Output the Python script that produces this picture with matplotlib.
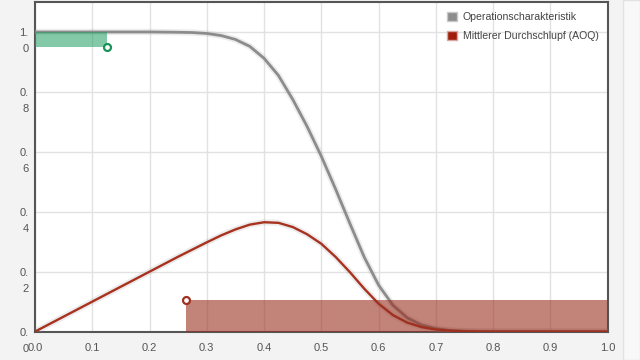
import matplotlib
matplotlib.use('Agg')
import matplotlib.pyplot as plt
import matplotlib.patheffects as pe
import matplotlib.transforms as mtransforms
from matplotlib.patches import Rectangle

plt.rcParams['font.family'] = ['Liberation Sans', 'DejaVu Sans']

# Operationscharakteristik
oc_x = [0.00, 0.10, 0.20, 0.25, 0.275, 0.30, 0.325, 0.35, 0.375, 0.40, 0.425, 0.45,
        0.475, 0.50, 0.525, 0.55, 0.575, 0.60, 0.625, 0.65, 0.675, 0.70, 0.725,
        0.75, 0.775, 0.80, 1.00]
oc_y = [1.000, 1.000, 1.000, 0.999, 0.998, 0.995, 0.988, 0.975, 0.952, 0.912, 0.855, 0.775,
        0.685, 0.585, 0.475, 0.360, 0.248, 0.155, 0.088, 0.046, 0.022, 0.010, 0.004,
        0.0015, 0.0005, 0.000, 0.000]

# Mittlerer Durchschlupf
aoq_x = [0.00, 0.10, 0.20, 0.25, 0.275, 0.30, 0.325, 0.35, 0.375, 0.40, 0.425, 0.45,
         0.475, 0.50, 0.525, 0.55, 0.575, 0.60, 0.625, 0.65, 0.675, 0.70, 0.725,
         0.75, 0.80, 1.00]
aoq_y = [0.000, 0.100, 0.200, 0.250, 0.274, 0.298, 0.321, 0.341, 0.357, 0.365, 0.363, 0.349,
         0.325, 0.293, 0.249, 0.198, 0.143, 0.093, 0.055, 0.030, 0.015, 0.007, 0.003,
         0.001, 0.000, 0.000]

# Risikobereiche
alpha_p, alpha_pa = 0.126, 0.950
beta_p, beta_pa = 0.263, 0.105

x_ticks = [0.0, 0.1, 0.2, 0.3, 0.4, 0.5, 0.6, 0.7, 0.8, 0.9, 1.0]
x_labels = ['0.0', '0.1', '0.2', '0.3', '0.4', '0.5', '0.6', '0.7', '0.8', '0.9', '1.0']
y_ticks = [0.0, 0.2, 0.4, 0.6, 0.8, 1.0]
y_labels = ['0.\n0', '0.\n2', '0.\n4', '0.\n6', '0.\n8', '1.\n0']

fig = plt.figure(figsize=(6.4, 3.6), dpi=100, facecolor='#f3f3f3')
fig.patches.append(Rectangle((623 / 640, 0), 17 / 640, 1, transform=fig.transFigure,
                             facecolor='#f8f8f8', edgecolor='#e2e2e2', linewidth=1, zorder=0))
ax = fig.add_axes([35 / 640, 28.4 / 360, 572.7 / 640, 329.6 / 360])
ax.set_facecolor('white')

ax.set_xlim(0, 1.0)
ax.set_ylim(0, 1.1)
ax.grid(True, color='#e2e2e2', linewidth=1)
ax.set_axisbelow(True)

halo = [pe.Stroke(linewidth=4.5, foreground='#999999', alpha=0.18), pe.Normal()]
ax.plot(oc_x, oc_y, color='#8c8c8c', linewidth=2.0, zorder=3, path_effects=halo,
        solid_capstyle='round', solid_joinstyle='round')
ax.plot(aoq_x, aoq_y, color='#a8321f', linewidth=1.7, zorder=3, path_effects=halo,
        solid_capstyle='round', solid_joinstyle='round')

ax.add_patch(Rectangle((0, alpha_pa), alpha_p, 1.0 - alpha_pa, facecolor='#1f9e5f',
                       alpha=0.55, linewidth=0, zorder=4))
ax.add_patch(Rectangle((beta_p, 0), 1.0 - beta_p, beta_pa, facecolor='#9a3020',
                       alpha=0.6, linewidth=0, zorder=4))
ax.plot([alpha_p], [alpha_pa], 'o', markersize=5, markerfacecolor='white',
        markeredgecolor='#1a9259', markeredgewidth=1.6, zorder=5, clip_on=False)
ax.plot([beta_p], [beta_pa], 'o', markersize=5, markerfacecolor='white',
        markeredgecolor='#a0301f', markeredgewidth=1.6, zorder=5, clip_on=False)

for side in ['left', 'bottom', 'top', 'right']:
    ax.spines[side].set_color('#555555')
    ax.spines[side].set_linewidth(1.5)

ax.set_xticks(x_ticks)
ax.set_xticklabels(x_labels)
ax.set_yticks(y_ticks)
ax.set_yticklabels(y_labels, va='top', linespacing=1.75)
ax.tick_params(axis='both', length=0, colors='#555555', labelsize=8)
ax.tick_params(axis='x', pad=8)
ax.tick_params(axis='y', pad=4.5)
offset = mtransforms.ScaledTranslation(0, 4 / 100, fig.dpi_scale_trans)
for lab in ax.get_yticklabels():
    lab.set_transform(lab.get_transform() + offset)

handles = [Rectangle((0, 0), 1, 1, facecolor='#8c8c8c', edgecolor='#c8c8c8', linewidth=1),
           Rectangle((0, 0), 1, 1, facecolor='#a11d0b', edgecolor='#d8a8a0', linewidth=1)]
ax.legend(handles, ['Operationscharakteristik', 'Mittlerer Durchschlupf (AOQ)'],
          loc='upper right', bbox_to_anchor=(0.998, 0.995), frameon=False, fontsize=7.6,
          labelcolor='#444444', handlelength=0.95, handleheight=0.95, handletextpad=0.5,
          labelspacing=0.85, borderaxespad=0.35)

fig.savefig('out.png', dpi=100, facecolor=fig.get_facecolor())
